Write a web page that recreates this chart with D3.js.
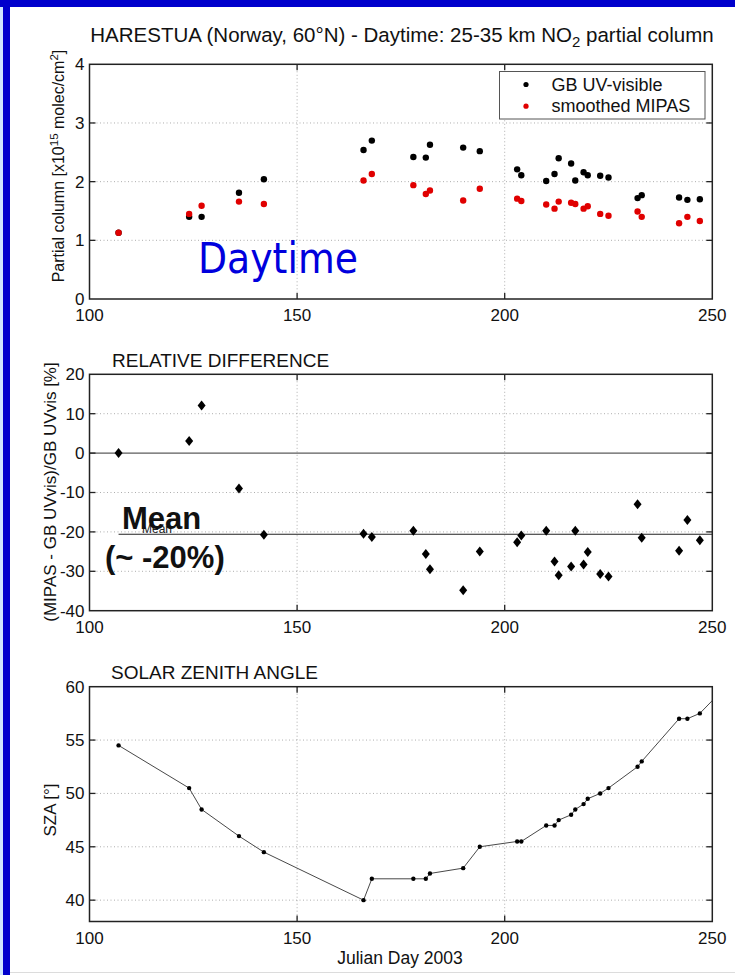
<!DOCTYPE html>
<html>
<head>
<meta charset="utf-8">
<script src="https://cdn.jsdelivr.net/npm/d3@7/dist/d3.min.js"></script>
<style>
  body { margin: 0; background: #fff; }
  svg { display: block; font-family: Arial, 'Liberation Sans', sans-serif; }
</style>
</head>
<body>
<svg id="chart" width="735" height="975"></svg>
<script>
// Julian days of the coincidences
const days = [107, 124, 127, 136, 142, 166, 168, 178, 181, 182, 190, 194, 203, 204,
  210, 212, 213, 216, 217, 219, 220, 223, 225, 232, 233, 242, 244, 247];
// 25-35 km NO2 partial column [x1e15 molec/cm2]
const gbUvVis = [1.13, 1.40, 1.40, 1.81, 2.04, 2.54, 2.70, 2.42, 2.41, 2.63, 2.58, 2.52, 2.21, 2.11,
  2.01, 2.13, 2.40, 2.31, 2.02, 2.16, 2.11, 2.10, 2.07, 1.72, 1.77, 1.73, 1.69, 1.70];
const mipasSmoothed = [1.13, 1.45, 1.59, 1.66, 1.62, 2.02, 2.13, 1.94, 1.79, 1.85, 1.68, 1.88, 1.71, 1.67,
  1.61, 1.54, 1.66, 1.64, 1.62, 1.54, 1.58, 1.45, 1.42, 1.49, 1.40, 1.29, 1.40, 1.33];
// relative difference [%]
const relDiff = [0, 3.1, 12.1, -9.0, -20.7, -20.5, -21.3, -19.7, -25.6, -29.5, -34.8, -25.0, -22.6, -20.9,
  -19.7, -27.5, -31.0, -28.8, -19.7, -28.3, -25.1, -30.7, -31.3, -13.0, -21.5, -24.8, -17.0, -22.1];
const meanDiff = -20.6;
const meanSpan = [107, 250];
// solar zenith angle [deg], last point lies past the axis and is clipped
const szaDays = [107, 124, 127, 136, 142, 166, 168, 178, 181, 182, 190, 194, 203, 204,
  210, 212, 213, 216, 217, 219, 220, 223, 225, 232, 233, 242, 244, 247, 252];
const sza = [54.5, 50.5, 48.5, 46.0, 44.5, 40.0, 42.0, 42.0, 42.0, 42.5, 43.0, 45.0, 45.5, 45.5,
  47.0, 47.0, 47.5, 48.0, 48.5, 49.0, 49.5, 50.0, 50.5, 52.5, 53.0, 57.0, 57.0, 57.5, 59.5];

const xTicks = [100, 150, 200, 250];
const colTicks = [0, 1, 2, 3, 4];
const diffTicks = [-40, -30, -20, -10, 0, 10, 20];
const szaTicks = [40, 45, 50, 55, 60];

const svg = d3.select('#chart');
const left = 89.5, right = 712.3;
const tickFont = 17;
const tickLen = 6;

// frame of the slide
svg.append('rect').attr('x', 0).attr('y', 0).attr('width', 3).attr('height', 975).attr('fill', '#cfe6ff');
svg.append('rect').attr('x', 3).attr('y', 0).attr('width', 7).attr('height', 975).attr('fill', '#0000cc');
svg.append('rect').attr('x', 0).attr('y', 0).attr('width', 735).attr('height', 7).attr('fill', '#0000cc');
svg.append('line').attr('x1', 10).attr('x2', 735).attr('y1', 972.5).attr('y2', 972.5)
  .attr('stroke', '#dcdcdc');

const x = d3.scaleLinear().domain([100, 250]).range([left, right]);

let clipId = 0;
function panel(top, bottom, yDomain, yTicks, showZero) {
  const y = d3.scaleLinear().domain(yDomain).range([bottom, top]);
  const g = svg.append('g');

  // dotted grid
  g.selectAll('.gx').data(xTicks.slice(1, -1)).enter().append('line')
    .attr('x1', d => x(d)).attr('x2', d => x(d)).attr('y1', top).attr('y2', bottom)
    .attr('stroke', '#999').attr('stroke-width', 0.8).attr('stroke-dasharray', '1,2.5');
  g.selectAll('.gy').data(yTicks.filter(d => d > yDomain[0] && d < yDomain[1] && !(showZero && d === 0)))
    .enter().append('line')
    .attr('x1', left).attr('x2', right).attr('y1', d => y(d)).attr('y2', d => y(d))
    .attr('stroke', '#999').attr('stroke-width', 0.8).attr('stroke-dasharray', '1,2.5');
  if (showZero) {
    g.append('line').attr('x1', left).attr('x2', right).attr('y1', y(0)).attr('y2', y(0))
      .attr('stroke', '#333').attr('stroke-width', 1);
  }

  // inward ticks on all four sides
  const xt = xTicks.slice(1, -1);
  g.selectAll('.tb').data(xt).enter().append('line')
    .attr('x1', d => x(d)).attr('x2', d => x(d)).attr('y1', bottom).attr('y2', bottom - tickLen)
    .attr('stroke', '#222').attr('stroke-width', 1.3);
  g.selectAll('.tt').data(xt).enter().append('line')
    .attr('x1', d => x(d)).attr('x2', d => x(d)).attr('y1', top).attr('y2', top + tickLen)
    .attr('stroke', '#222').attr('stroke-width', 1.3);
  const yt = yTicks.filter(d => d > yDomain[0] && d < yDomain[1]);
  g.selectAll('.tl').data(yt).enter().append('line')
    .attr('x1', left).attr('x2', left + tickLen).attr('y1', d => y(d)).attr('y2', d => y(d))
    .attr('stroke', '#222').attr('stroke-width', 1.3);
  g.selectAll('.tr').data(yt).enter().append('line')
    .attr('x1', right).attr('x2', right - tickLen).attr('y1', d => y(d)).attr('y2', d => y(d))
    .attr('stroke', '#222').attr('stroke-width', 1.3);

  // box
  g.append('rect').attr('x', left).attr('y', top).attr('width', right - left).attr('height', bottom - top)
    .attr('fill', 'none').attr('stroke', '#222').attr('stroke-width', 1.5);

  // tick labels
  g.selectAll('.lx').data(xTicks).enter().append('text')
    .attr('x', d => x(d)).attr('y', bottom + 22).attr('text-anchor', 'middle')
    .attr('font-size', tickFont).attr('fill', '#111').text(d => d);
  g.selectAll('.ly').data(yTicks).enter().append('text')
    .attr('x', left - 5).attr('y', d => y(d)).attr('dy', '0.35em').attr('text-anchor', 'end')
    .attr('font-size', tickFont).attr('fill', '#111').text(d => d);

  clipId += 1;
  svg.append('clipPath').attr('id', 'clip' + clipId).append('rect')
    .attr('x', left).attr('y', top).attr('width', right - left).attr('height', bottom - top);
  const plot = svg.append('g').attr('clip-path', 'url(#clip' + clipId + ')');
  return {y, plot};
}

// ---------- title ----------
const title = svg.append('text').attr('x', 402).attr('y', 42).attr('text-anchor', 'middle')
  .attr('font-size', 20.5).attr('fill', '#111');
title.append('tspan').text('HARESTUA (Norway, 60°N) - Daytime: 25-35 km NO');
title.append('tspan').attr('baseline-shift', '-30%').attr('font-size', 15).text('2');
title.append('tspan').text(' partial column');

// ---------- panel 1: partial column ----------
const p1 = panel(64.3, 299, [0, 4], colTicks, false);
p1.plot.selectAll('.gb').data(days).enter().append('circle')
  .attr('cx', d => x(d)).attr('cy', (d, i) => p1.y(gbUvVis[i])).attr('r', 3.2).attr('fill', '#000');
p1.plot.selectAll('.mp').data(days).enter().append('circle')
  .attr('cx', d => x(d)).attr('cy', (d, i) => p1.y(mipasSmoothed[i])).attr('r', 3.2).attr('fill', '#e00000');

const yl1 = svg.append('text').attr('transform', 'translate(64,166) rotate(-90)')
  .attr('text-anchor', 'middle').attr('font-size', 16).attr('fill', '#111');
yl1.append('tspan').text('Partial column [x10');
yl1.append('tspan').attr('baseline-shift', 'super').attr('font-size', 11.5).text('15');
yl1.append('tspan').text(' molec/cm');
yl1.append('tspan').attr('baseline-shift', 'super').attr('font-size', 11.5).text('2');
yl1.append('tspan').text(']');

// legend
const lg = svg.append('g');
lg.append('rect').attr('x', 499.5).attr('y', 71.5).attr('width', 205.5).attr('height', 47.5)
  .attr('fill', '#fff').attr('stroke', '#555').attr('stroke-width', 1);
const legendItems = [{label: 'GB UV-visible', color: '#000'}, {label: 'smoothed MIPAS', color: '#e00000'}];
legendItems.forEach((it, i) => {
  lg.append('circle').attr('cx', 526).attr('cy', 84.5 + i * 21.7).attr('r', 2.6).attr('fill', it.color);
  lg.append('text').attr('x', 551.5).attr('y', 90.5 + i * 21.7).attr('font-size', 18).attr('fill', '#111')
    .text(it.label);
});

svg.append('text').attr('x', 198).attr('y', 273).attr('font-size', 42)
  .attr('font-family', "'Comic Sans MS', 'DejaVu Sans', sans-serif")
  .attr('textLength', 160).attr('lengthAdjust', 'spacingAndGlyphs')
  .attr('fill', '#0000dd').text('Daytime');

// ---------- panel 2: relative difference ----------
svg.append('text').attr('x', 112).attr('y', 367).attr('font-size', 19).attr('fill', '#111')
  .text('RELATIVE DIFFERENCE');
const p2 = panel(374.3, 610.7, [-40, 20], diffTicks, true);
p2.plot.append('line').attr('x1', x(meanSpan[0])).attr('x2', x(meanSpan[1]))
  .attr('y1', p2.y(meanDiff)).attr('y2', p2.y(meanDiff)).attr('stroke', '#222').attr('stroke-width', 1.2);
// filled diamond marker, 8 px wide and 10 px tall
const diamond = 'M0,-5L4,0L0,5L-4,0Z';
p2.plot.selectAll('.rd').data(days).enter().append('path')
  .attr('d', diamond)
  .attr('transform', (d, i) => 'translate(' + x(d) + ',' + p2.y(relDiff[i]) + ')')
  .attr('fill', '#000');
svg.append('text').attr('x', 142).attr('y', 533).attr('font-size', 12).attr('fill', '#222').text('Mean');
svg.append('text').attr('x', 122).attr('y', 529).attr('font-size', 31).attr('font-weight', 'bold')
  .attr('fill', '#111').text('Mean');
svg.append('text').attr('x', 105).attr('y', 568).attr('font-size', 31).attr('font-weight', 'bold')
  .attr('fill', '#111').text('(~ -20%)');
svg.append('text').attr('transform', 'translate(56,492) rotate(-90)').attr('text-anchor', 'middle')
  .attr('font-size', 17).attr('fill', '#111').text('(MIPAS - GB UVvis)/GB UVvis [%]');

// ---------- panel 3: solar zenith angle ----------
svg.append('text').attr('x', 111).attr('y', 679).attr('font-size', 19).attr('fill', '#111')
  .text('SOLAR ZENITH ANGLE');
const p3 = panel(686.7, 921.5, [38, 60], szaTicks, false);
const szaPts = szaDays.map((d, i) => [d, sza[i]]);
p3.plot.append('path').datum(szaPts)
  .attr('d', d3.line().x(d => x(d[0])).y(d => p3.y(d[1])))
  .attr('fill', 'none').attr('stroke', '#333').attr('stroke-width', 0.9);
p3.plot.selectAll('.sz').data(szaPts.filter(d => d[0] <= 250)).enter().append('circle')
  .attr('cx', d => x(d[0])).attr('cy', d => p3.y(d[1])).attr('r', 2.2).attr('fill', '#000');
svg.append('text').attr('transform', 'translate(56,810) rotate(-90)').attr('text-anchor', 'middle')
  .attr('font-size', 17).attr('fill', '#111').text('SZA [°]');
svg.append('text').attr('x', 400).attr('y', 964).attr('text-anchor', 'middle')
  .attr('font-size', 17.5).attr('fill', '#111').text('Julian Day 2003');
</script>
</body>
</html>
